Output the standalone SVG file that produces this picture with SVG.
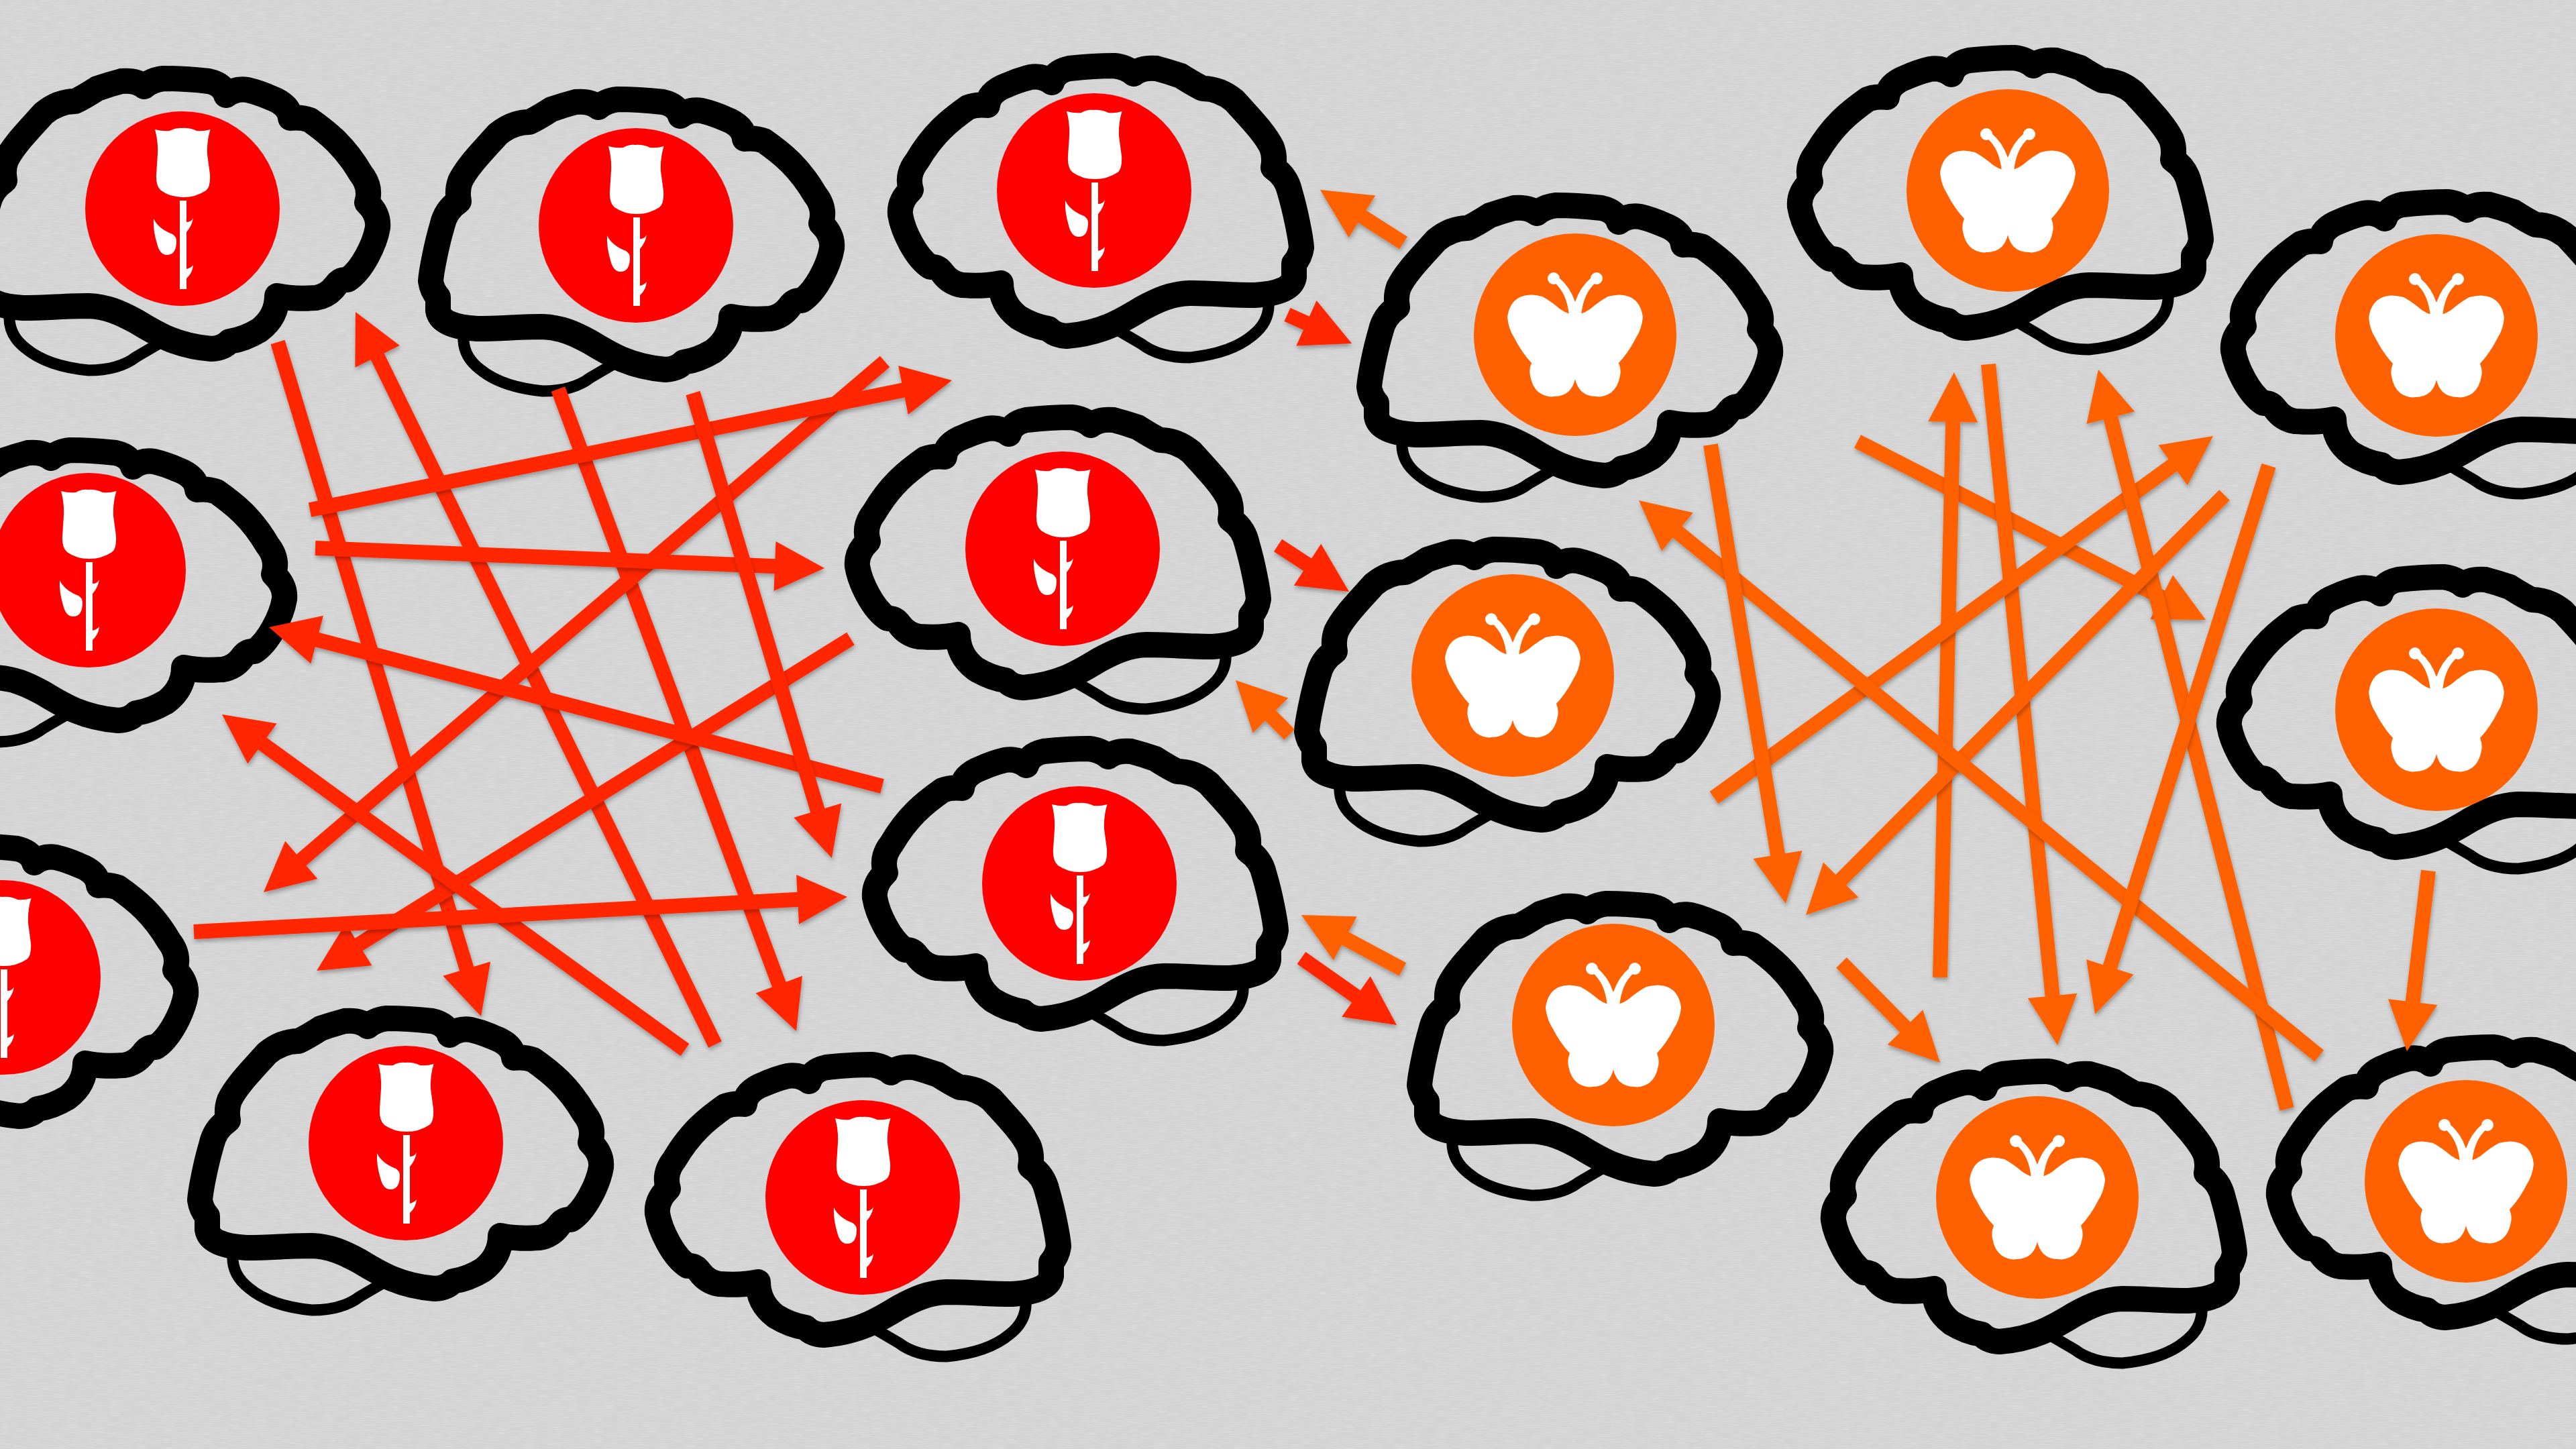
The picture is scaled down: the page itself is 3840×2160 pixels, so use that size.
<svg xmlns="http://www.w3.org/2000/svg" width="3840" height="2160" viewBox="0 0 3840 2160">
<style>
.brain-outer{fill:none;stroke:#000;stroke-width:38;stroke-linejoin:round;stroke-linecap:round}
.brain-loop{fill:none;stroke:#000;stroke-width:17;stroke-linejoin:round;stroke-linecap:round}
.w{fill:#fff}
.rc{fill:#ff0000}
.oc{fill:#ff6000}
.a{fill:none;stroke-width:22;filter:url(#shadow)}
.r{stroke:#ff2600;marker-end:url(#hr)}
.o{stroke:#ff6000;marker-end:url(#ho)}
</style>
<defs>
<filter id="paper" filterUnits="userSpaceOnUse" x="0" y="0" width="3840" height="2160">
<feTurbulence type="fractalNoise" baseFrequency="0.05 0.7" numOctaves="2" seed="4"/>
<feColorMatrix type="matrix" values="0 0 0 0 1 0 0 0 0 1 0 0 0 0 1 0.5 0 0 0 -0.22"/>
</filter>
<filter id="shadow" filterUnits="userSpaceOnUse" x="0" y="0" width="3840" height="2160">
<feDropShadow dx="1" dy="4" stdDeviation="3" flood-color="#000" flood-opacity="0.3"/>
</filter>
<marker id="hr" markerUnits="userSpaceOnUse" markerWidth="74" markerHeight="74" refX="34" refY="37" orient="auto" overflow="visible"><path d="M0,0L74,37L0,74Z" fill="#ff2600"/></marker>
<marker id="ho" markerUnits="userSpaceOnUse" markerWidth="74" markerHeight="74" refX="34" refY="37" orient="auto" overflow="visible"><path d="M0,0L74,37L0,74Z" fill="#ff6000"/></marker>
<g id="brain">
<path class="brain-outer" d="M-139,138C-160,143 -180,142 -197,141Q-215,138 -226,123Q-233,113 -244,114C-266,100 -285,60 -289,36Q-291,16 -273,-1Q-280,-24 -264,-44C-240,-85 -215,-105 -188,-124Q-175,-129 -159,-127Q-157,-147 -130,-157Q-112,-165 -95,-169Q-77,-172 -63,-161Q-59,-177 -37,-182Q0,-186 30,-186Q48,-184 59,-174Q71,-184 93,-182Q112,-177 129,-171Q151,-157 162,-152Q187,-152 209,-134C235,-105 255,-85 265,-64Q270,-50 267,-34Q287,-21 292,3C300,30 308,70 309,85Q307,99 298,109L298,129Q294,153 240,156C205,156 175,153 142,153C115,154 95,163 71,176C40,195 10,213 -41,217Q-59,216 -68,206Q-90,203 -113,189Q-139,169 -139,138Z"/>
<path class="brain-loop" d="M260,166Q262,196 236,216Q204,243 142,249Q97,249 71,229L30,205"/>
</g>
<g id="rose">
<circle class="rc" r="145"/>
<path class="w" d="M-41,-118Q-30,-115 -19,-116Q-10,-121 -1,-120Q10,-121 21,-116Q32,-115 41.500,-118Q36,-100 37,-81L41,-51Q42,-32 35,-27Q20,-17 1,-17Q-18,-17 -32,-27Q-40,-34 -39,-51L-37,-81Q-36,-100 -41,-118Z"/>
<path class="w" d="M-4,-12H6V120H-4ZM6,20Q13,20 16,14Q14,26 6,35ZM6,90Q13,88 16,84Q15,96 6,104Z"/>
<path class="w" d="M-43,15Q-36,30 -15,38Q-9,42 -9,48Q-9,69 -23,69Q-34,69 -38,52Q-44,32 -43,15Z"/>
</g>
<g id="butterfly">
<circle class="oc" r="151"/>
<path class="w" d="M0,-30Q10,-30 22,-38Q36,-50 49,-57Q68,-62 80,-57Q98,-50 101,-26Q99,-8 91,4Q80,26 65,42Q69,52 67,61Q64,78 54,86Q42,94 31,92Q18,92 9,84Q2,76 0,66Q-2,76 -9,84Q-18,92 -31,92Q-42,94 -54,86Q-64,78 -67,61Q-69,52 -65,42Q-80,26 -91,4Q-99,-8 -101,-26Q-98,-50 -80,-57Q-68,-62 -49,-57Q-36,-50 -22,-38Q-10,-30 0,-30Z"/>
<path class="w" d="M9,-28Q12,-62 31,-78L24,-85Q8,-72 0,-49Q-8,-72 -24,-85L-31,-78Q-12,-62 -9,-28Z"/>
<circle class="w" cx="32" cy="-84" r="9"/><circle class="w" cx="-32" cy="-84" r="9"/>
</g>
</defs>
<rect width="3840" height="2160" fill="#d3d3d3"/>
<rect width="3840" height="2160" filter="url(#paper)"/>
<g id="node-rose-1" transform="translate(272,311)"><use href="#brain" transform="translate(2,-8) scale(-1,1)"/><use href="#rose"/></g>
<g id="node-rose-2" transform="translate(948,336)"><use href="#brain" transform="translate(3,-2) scale(-1,1)"/><use href="#rose"/></g>
<g id="node-rose-3" transform="translate(1631,284)"><use href="#brain"/><use href="#rose"/></g>
<g id="node-rose-4" transform="translate(132,850)"><use href="#brain" transform="translate(3,7) scale(-1,1)"/><use href="#rose"/></g>
<g id="node-rose-5" transform="translate(1584,818)"><use href="#brain" transform="translate(-17,-10)"/><use href="#rose"/></g>
<g id="node-rose-6" transform="translate(1609,1317)"><use href="#brain" transform="translate(-16,-15)"/><use href="#rose"/></g>
<g id="node-rose-7" transform="translate(5,1457)"><use href="#brain" transform="translate(-17,-10) scale(-1,1)"/><use href="#rose"/></g>
<g id="node-rose-8" transform="translate(605,1704)"><use href="#brain" transform="translate(2,0) scale(-1,1)"/><use href="#rose"/></g>
<g id="node-rose-9" transform="translate(1286,1785)"><use href="#brain" transform="translate(-17,-12)"/><use href="#rose"/></g>
<g id="node-butterfly-1" transform="translate(2348,499)"><use href="#brain" transform="translate(2,-7) scale(-1,1)"/><use href="#butterfly"/></g>
<g id="node-butterfly-2" transform="translate(2255,1007)"><use href="#brain" transform="translate(2,-2) scale(-1,1)"/><use href="#butterfly"/></g>
<g id="node-butterfly-3" transform="translate(2405,1528)"><use href="#brain" transform="translate(20,5) scale(-1,1)"/><use href="#butterfly"/></g>
<g id="node-butterfly-4" transform="translate(2993,284)"><use href="#brain" transform="translate(-21,-12)"/><use href="#butterfly"/></g>
<g id="node-butterfly-5" transform="translate(3632,500)"><use href="#brain" transform="translate(-14,-13)"/><use href="#butterfly"/></g>
<g id="node-butterfly-6" transform="translate(3632,1058)"><use href="#brain" transform="translate(-20,-12)"/><use href="#butterfly"/></g>
<g id="node-butterfly-7" transform="translate(3037,1785)"><use href="#brain" transform="translate(-15,-2)"/><use href="#butterfly"/></g>
<g id="node-butterfly-8" transform="translate(3676,1761)"><use href="#brain" transform="translate(10,-14)"/><use href="#butterfly"/></g>
<g id="connectors">
<line class="a r" x1="414" y1="510" x2="705.500" y2="1476.700"/>
<line class="a r" x1="1066" y1="1557" x2="547.600" y2="500.900"/>
<line class="a r" x1="832" y1="580" x2="1173.100" y2="1499.500"/>
<line class="a r" x1="1319" y1="539" x2="423.400" y2="1304"/>
<line class="a r" x1="1268" y1="952" x2="506" y2="1425.900"/>
<line class="a r" x1="1021" y1="1565" x2="363.400" y2="1088.500"/>
<line class="a r" x1="1315" y1="1172" x2="439.700" y2="945"/>
<line class="a r" x1="470" y1="817" x2="1189" y2="845.400"/>
<line class="a r" x1="462" y1="760" x2="1379.800" y2="574.900"/>
<line class="a r" x1="1033" y1="586" x2="1228.500" y2="1240.700"/>
<line class="a r" x1="289" y1="1389" x2="1223" y2="1339.100"/>
<line class="a r" x1="1919" y1="469" x2="1978.500" y2="495.600"/>
<line class="a r" x1="1905" y1="813" x2="1977.500" y2="860.200"/>
<line class="a r" x1="1940" y1="1428" x2="2049.300" y2="1505"/>
<line class="a o" x1="2092" y1="362" x2="2001.700" y2="304.500"/>
<line class="a o" x1="1922" y1="1095" x2="1870" y2="1042.400"/>
<line class="a o" x1="2091" y1="1445" x2="1975.200" y2="1382.900"/>
<line class="a o" x1="2769" y1="658" x2="3252.400" y2="905.800"/>
<line class="a o" x1="2892" y1="1457" x2="2912" y2="595"/>
<line class="a o" x1="2964" y1="543" x2="3063" y2="1518.200"/>
<line class="a o" x1="2555" y1="1189" x2="3266.600" y2="673.500"/>
<line class="a o" x1="3409" y1="1653" x2="3137.900" y2="589.800"/>
<line class="a o" x1="3316" y1="738" x2="2720.200" y2="1335.700"/>
<line class="a o" x1="3457" y1="1574" x2="2474" y2="771.300"/>
<line class="a o" x1="2550" y1="663" x2="2655.500" y2="1307.500"/>
<line class="a o" x1="3382" y1="694" x2="3135.100" y2="1473.900"/>
<line class="a o" x1="2745" y1="1435" x2="2863.900" y2="1555.500"/>
<line class="a o" x1="3620" y1="1298" x2="3592.700" y2="1527.300"/>
</g>
</svg>
